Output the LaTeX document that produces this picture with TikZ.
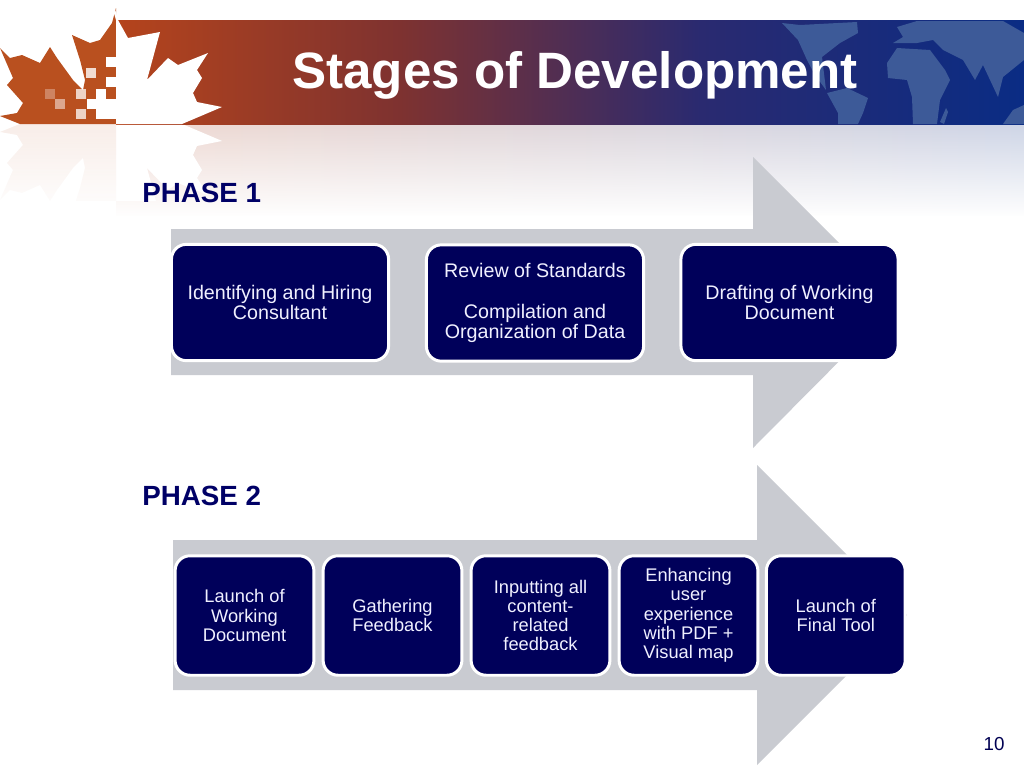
\documentclass[tikz,border=0pt]{standalone}
\usepackage{fontspec}
\setmainfont{Liberation Sans}
\usetikzlibrary{fadings}
\definecolor{navybox}{HTML}{00005A}
\definecolor{arrowgray}{HTML}{C9CBD1}
\definecolor{rustleft}{HTML}{B5441C}
\definecolor{rustmid}{HTML}{7E3230}
\definecolor{bluemid}{HTML}{2A2A70}
\definecolor{blueright}{HTML}{0A2C84}
\definecolor{landblue}{HTML}{3D5A98}
\definecolor{leafbrown}{HTML}{B9501F}
\definecolor{headtext}{HTML}{000066}
\newcommand{\mapleleaf}{(118,20) -- (128,38) -- (160,32) -- (147,80) -- (168,58) -- (178,65) -- (208,53) -- (197,70) -- (202,78) -- (193,93) -- (197,102) -- (222,107) -- (182,124) -- (116,124) -- (116,12) -- cycle}
\newcommand{\brownleaf}{(0,48) -- (10,58) -- (22,55) -- (40,63) -- (50,47) -- (57,58) -- (73,80) -- (83,90) -- (85,80) -- (80,60) -- (72,35) -- (90,43) -- (100,40) -- (112,23) -- (116,8) -- (116,124) -- (20,124) -- (0,116) -- (17,113) -- (23,103) -- (7,85) -- (13,78) -- cycle}
\tikzset{
  phasebox/.style={draw=white, line width=1.7pt, fill=navybox, rounded corners=8.5pt, text=white!94!blue, align=center, anchor=center},
  widebox/.style={phasebox, minimum width=123.6pt, minimum height=66.2pt, font=\fontsize{11.2}{11.7}\selectfont},
  narrowbox/.style={phasebox, minimum width=79pt, minimum height=68pt, inner sep=0pt, font=\fontsize{10.4}{10.95}\selectfont},
  phasehead/.style={text=headtext, font=\fontsize{15.8}{18}\selectfont\bfseries, anchor=west, inner sep=0pt},
  bigarrow/.style={fill=arrowgray},
  land/.style={fill=landblue}
}
\begin{document}
\begin{tikzpicture}[x=0.02cm,y=-0.02cm]
  \useasboundingbox (0,0) rectangle (1024,768);
  % reflection below the banner
  \shade[left color=rustleft!20!white, right color=blueright!20!white] (116,124) rectangle (1024,215);
  \begin{scope}
    \clip (0,124) rectangle (1024,200);
    \begin{scope}[yshift=-4.96cm,yscale=-1]
      \fill[white] \mapleleaf;
      \fill[leafbrown,opacity=.1] \brownleaf;
    \end{scope}
  \end{scope}
  \fill[white,path fading=north] (-2,124) rectangle (1030,217);
  % banner
  \shade[left color=rustleft, right color=rustmid] (116,20) rectangle (400,124);
  \shade[left color=rustmid, right color=bluemid] (400,20) rectangle (700,124);
  \shade[left color=bluemid, right color=blueright] (700,20) rectangle (1024,124);
  \begin{scope}
    \clip (700,20) rectangle (1024,124);
    \fill[land] (782,23) -- (800,25) -- (857,22) -- (858,33) -- (840,43) -- (822,57) -- (826,90) -- (815,75) -- (807,60) -- (798,40) -- cycle;
    \fill[land] (827,93) -- (847,88) -- (868,98) -- (863,113) -- (858,124) -- (838,124) -- (838,113) -- cycle;
    \fill[land] (887,63) -- (897,48) -- (930,50) -- (945,70) -- (950,80) -- (940,100) -- (937,124) -- (913,124) -- (912,97) -- (907,80) -- (888,78) -- cycle;
    \fill[land] (893,43) -- (903,37) -- (897,27) -- (917,21) -- (1003,21) -- (1024,33) -- (1024,60) -- (1003,77) -- (998,97) -- (983,65) -- (975,80) -- (963,60) -- (943,50) -- (933,40) -- (917,43) -- cycle;
    \fill[land] (1003,124) -- (1013,110) -- (1024,105) -- (1024,124) -- cycle;
    \fill[land] (940,122) -- (946,108) -- (948,112) -- (944,124) -- cycle;
  \end{scope}
  % leaves
  \fill[leafbrown] \brownleaf;
  \fill[white] \mapleleaf;
  \foreach \x/\y/\o in {106/57/1,86/68/.8,106/77/1,76/89/.75,96/89/1,87/99/1,96/99/1,106/99/1,96/109/1,106/109/1,76/109/.75,55/99/.5,45/89/.3}
    \fill[white,opacity=\o] (\x,\y) rectangle ++(10,10);
  \fill[white] (110,0) -- (116,12) -- (116,20) -- cycle;
  % title and headings
  \node[text=white, font=\fontsize{29.1}{32}\selectfont\bfseries, anchor=west, inner sep=0pt] (title) at (292,75) {Stages of Development};
  \node[phasehead] (phaseone) at (142,193) {PHASE 1};
  \node[phasehead] (phasetwo) at (142,496) {PHASE 2};
  % phase 1
  \fill[bigarrow] (171,229) -- (753,229) -- (753,157) -- (898,302) -- (753,448) -- (753,375) -- (171,375) -- cycle;
  \draw
    (280,302.5) node[widebox] (hiring){Identifying and Hiring\\Consultant}
    (535,303) node[widebox] (review){Review of Standards\\[\baselineskip]Compilation and\\Organization of Data}
    (789.5,302.5) node[widebox] (drafting){Drafting of Working\\Document};
  % phase 2
  \fill[bigarrow] (173,540) -- (757,540) -- (757,465) -- (907,615) -- (757,765) -- (757,690) -- (173,690) -- cycle;
  \draw
    (244.5,615.5) node[narrowbox] (launchdoc){Launch of\\Working\\Document}
    (392.5,615.5) node[narrowbox] (gathering){Gathering\\Feedback}
    (540.5,615.5) node[narrowbox] (inputting){Inputting all\\content-\\related\\feedback}
    (688.5,615.5) node[narrowbox] (enhancing){Enhancing\\user\\experience\\with PDF +\\Visual map}
    (835.8,615.5) node[narrowbox] (launchtool){Launch of\\Final Tool};
  \node[text=headtext!80!black, font=\fontsize{10.7}{12}\selectfont, inner sep=0pt] (pagenum) at (994,744) {10};
\end{tikzpicture}
\end{document}
